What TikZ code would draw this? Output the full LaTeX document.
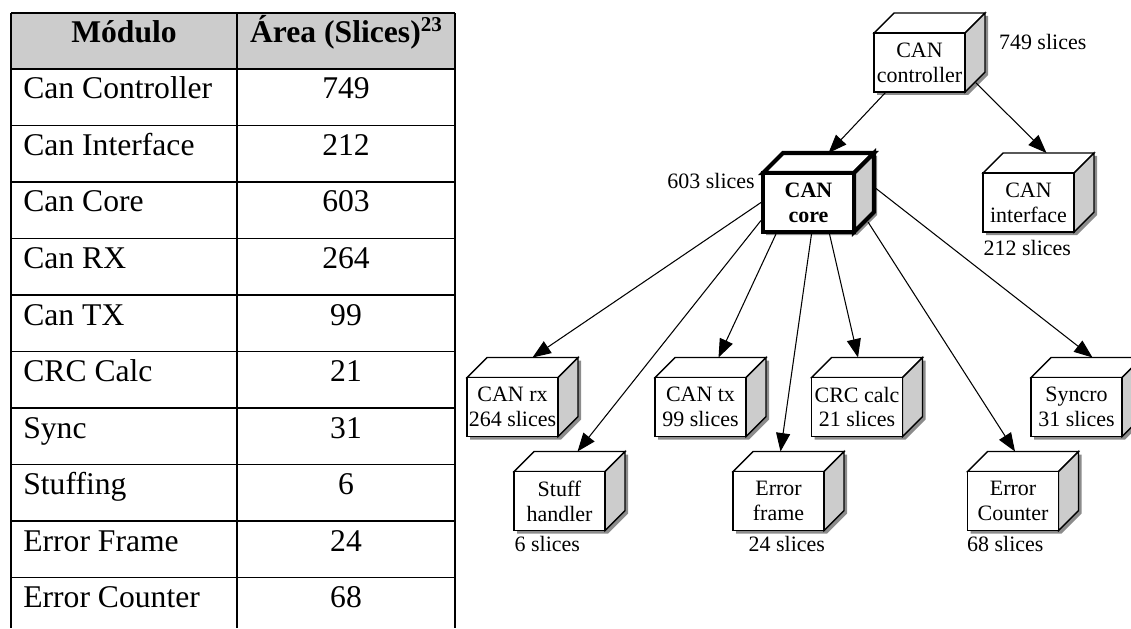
\documentclass[tikz,border=0pt]{standalone}
\usepackage{fontspec}
\setmainfont{Liberation Serif}
\usetikzlibrary{arrows.meta,calc}

\tikzset{
  cubefront/.style={draw, fill=white, line width=0.8pt, minimum width=1.82cm,
    minimum height=1.18cm, inner sep=0pt, align=center,
    font=\fontsize{12.5}{14.2}\selectfont},
  cubetop/.style={draw, fill=white, line width=0.8pt},
  cubeside/.style={draw, fill=black!20, line width=0.8pt},
  cubeshadow/.style={fill=black!45},
  slabel/.style={inner sep=0pt, font=\fontsize{12.5}{14.2}\selectfont},
  link/.style={-{Triangle[length=10.5pt,width=8pt]}, line width=0.6pt},
  cell/.style={inner sep=0pt, font=\fontsize{18}{21}\selectfont},
  grid/.style={line width=1.1pt},
}

% #1 extra style, #2 name, #3 centre of front face, #4 text
\newcommand{\cubebox}[4][]{%
  \begin{scope}[shift={#3}]
    \fill[cubeshadow] (-42.5,-26.5) -- (-22.5,-46.5) -- (68.5,-46.5)
      -- (68.5,12.5) -- (48.5,32.5) -- (-42.5,32.5) -- cycle;
    \filldraw[cubetop,#1] (-45.5,-29.5) -- (-25.5,-49.5) -- (65.5,-49.5)
      -- (45.5,-29.5) -- cycle;
    \filldraw[cubeside,#1] (45.5,-29.5) -- (65.5,-49.5) -- (65.5,9.5)
      -- (45.5,29.5) -- cycle;
    \node[cubefront,#1] (#2) at (0,0) {#4};
    \coordinate (#2-top) at (20,-49.5);
  \end{scope}}

\begin{document}
\begin{tikzpicture}[x=0.02cm,y=-0.02cm]
  \useasboundingbox (0,0) rectangle (1131,628);

  % table: header row
  \fill[black!20] (11,13) rectangle (455,69);
  \draw[grid] (11,13) -- (455,13);
  \foreach \k in {0,...,9}
    \draw[grid] (11,69+56.5*\k) -- (455,69+56.5*\k);
  \foreach \x in {11,237,455}
    \draw[grid] (\x,13) -- (\x,628);
  \node[cell, anchor=base] (h1) at (124,43) {\bfseries Módulo};
  \node[cell, anchor=base] (h2) at (346,43) {\bfseries Área (Slices)\raisebox{6.5pt}{\fontsize{12}{12}\selectfont\bfseries 23}};
  % table: one row per module
  \foreach \m/\a [count=\i] in {Can Controller/749, Can Interface/212,
      Can Core/603, Can RX/264, Can TX/99, CRC Calc/21, Sync/31,
      Stuffing/6, Error Frame/24, Error Counter/68} {
    \node[cell, anchor=base west] (m\i) at (23,42.5+56.5*\i) {\m};
    \node[cell, anchor=base] (a\i) at (346,42.5+56.5*\i) {\a};
  }

  % module hierarchy
  \cubebox{controller}{(919.5,62.5)}{CAN\\controller}
  \cubebox[line width=2.3pt]{core}{(808.5,202.5)}{\textbf{CAN}\\\textbf{core}}
  \cubebox{interface}{(1028.5,202.5)}{CAN\\interface}
  \cubebox{rx}{(512.5,407)}{CAN rx\\264 slices}
  \cubebox{tx}{(700.5,407)}{CAN tx\\99 slices}
  \cubebox{crc}{(857,407)}{CRC calc\\21 slices}
  \cubebox{syncro}{(1076.5,407)}{Syncro\\31 slices}
  \cubebox{stuff}{(559.5,501)}{Stuff\\handler}
  \cubebox{errframe}{(778.5,501)}{Error\\frame}
  \cubebox{errcount}{(1013,501)}{Error\\Counter}

  % slice counts beside the boxes
  \node[slabel, anchor=west] (controller-l) at ($(controller.north east)+(33,10)$) {749 slices};
  \node[slabel, anchor=east] (core-l) at ($(core.north west)+(-6,10)$) {603 slices};
  \node[slabel, anchor=west] (interface-l) at ($(interface.south west)+(1,15)$) {212 slices};
  \node[slabel, anchor=west] (stuff-l) at ($(stuff.south west)+(1,13)$) {6 slices};
  \node[slabel, anchor=west] (errframe-l) at ($(errframe.south west)+(16,13)$) {24 slices};
  \node[slabel, anchor=west] (errcount-l) at ($(errcount.south west)+(0,13)$) {68 slices};

  % arrows
  \draw[link] ($(controller.south west)+(12,0)$) -- (core-top);
  \draw[link] ($(controller.south east)+(10,-10)$) -- ($(interface-top)+(-2,0)$);
  \draw[link] (core.west) -- (rx-top);
  \draw[link] ($(core.west)+(0,18)$) -- ($(stuff-top)+(-2,0)$);
  \draw[link] ($(core.south west)+(15,0)$) -- ($(tx-top)+(-2,0)$);
  \draw[link] ($(core.south)+(3,0)$) -- ($(errframe-top)+(-18,0)$);
  \draw[link] ($(core.south)+(21,0)$) -- ($(crc-top)+(-19,0)$);
  \draw[link] ($(core.south east)+(12,-12)$) -- ($(errcount-top)+(-18,0)$);
  \draw[link] ($(core.east)+(20,-14)$) -- ($(syncro-top)+(-4,0)$);
\end{tikzpicture}
\end{document}
